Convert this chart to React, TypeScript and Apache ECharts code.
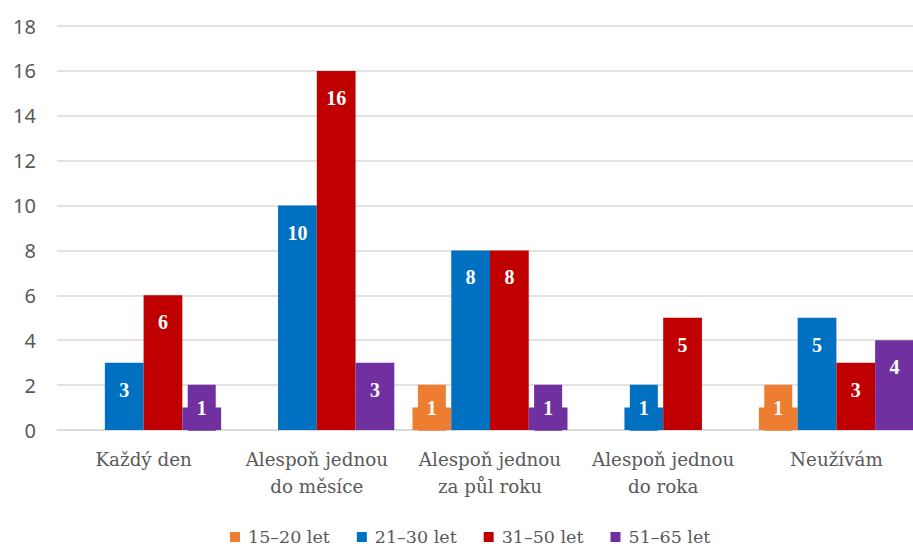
import React, { useEffect, useRef } from "react";
import * as echarts from "echarts";

const categories = [
  "Každý den",
  "Alespoň jednou\ndo měsíce",
  "Alespoň jednou\nza půl roku",
  "Alespoň jednou\ndo roka",
  "Neužívám",
];
const seriesNames = ["15–20 let", "21–30 let", "31–50 let", "51–65 let"];
const values15_20 = [0, 0, 1, 0, 1];
const values21_30 = [3, 10, 8, 1, 5];
const values31_50 = [6, 16, 8, 5, 3];
const values51_65 = [1, 3, 1, 0, 4];
const colors = ["#ED7D31", "#0070C0", "#C00000", "#7030A0"];

const SERIF_BOLD = "Liberation Serif";
const SERIF = "DejaVu Serif";

export default function App() {
  const ref = useRef<HTMLDivElement>(null);
  useEffect(() => {
    if (!ref.current) return;
    const chart = echarts.init(ref.current, null, { renderer: "svg" });
    const all = [values15_20, values21_30, values31_50, values51_65];
    const series = all.map((vals, si) => ({
      name: seriesNames[si],
      type: "bar",
      barGap: "0%",
      barCategoryGap: "10.5%",
      itemStyle: { color: colors[si] },
      label: {
        show: true,
        position: "insideTop",
        distance: 17,
        color: "#ffffff",
        fontFamily: SERIF_BOLD,
        fontWeight: "bold",
        fontSize: 20,
        lineHeight: 20,
      },
      data: vals.map((v) => {
        if (v === 0) return { value: v, label: { show: false } };
        if (v === 1)
          return {
            value: v,
            label: {
              position: "inside",
              offset: [0, -11],
              backgroundColor: colors[si],
              padding: [13, 9, 13, 9],
            },
          };
        return { value: v };
      }),
    }));
    chart.setOption({
      animation: false,
      backgroundColor: "#ffffff",
      color: colors,
      grid: { left: 57, right: 0, top: 26, bottom: 117, containLabel: false },
      legend: {
        top: 521,
        left: 225,
        itemWidth: 10,
        itemHeight: 10,
        itemGap: 27,
        icon: "rect",
        textStyle: {
          fontFamily: SERIF,
          fontSize: 17.5,
          lineHeight: 22,
          padding: [0, 0, 0, 3],
          color: "#595959",
        },
        data: seriesNames,
      },
      xAxis: {
        type: "category",
        data: categories,
        axisTick: { show: false },
        axisLine: { lineStyle: { color: "#d9d9d9", width: 1.5 } },
        axisLabel: {
          interval: 0,
          margin: 16,
          fontFamily: SERIF,
          fontSize: 18.3,
          lineHeight: 27,
          color: "#595959",
        },
      },
      yAxis: {
        type: "value",
        min: 0,
        max: 18,
        interval: 2,
        axisLine: { show: false },
        axisTick: { show: false },
        splitLine: { lineStyle: { color: "#d9d9d9", width: 1.5 } },
        axisLabel: {
          margin: 21,
          fontFamily: "Noto Sans",
          fontSize: 20,
          color: "#595959",
        },
      },
      series,
    });
    return () => chart.dispose();
  }, []);
  return (
    <div
      style={{
        position: "fixed",
        left: 0,
        top: 0,
        width: 913,
        height: 547,
        overflow: "hidden",
        background: "#ffffff",
      }}
    >
      <div ref={ref} style={{ width: 923, height: 547 }} />
    </div>
  );
}
